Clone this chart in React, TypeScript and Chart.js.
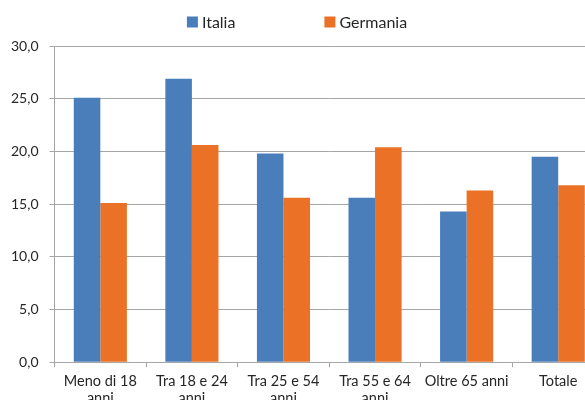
import React, { useEffect, useRef } from "react";
import { Chart, registerables } from "chart.js";

Chart.register(...registerables);

const categories: string[][] = [
  ["Meno di 18", "anni"],
  ["Tra 18 e 24", "anni"],
  ["Tra 25 e 54", "anni"],
  ["Tra 55 e 64", "anni"],
  ["Oltre 65 anni"],
  ["Totale"],
];
const italia: number[] = [25.1, 26.9, 19.8, 15.6, 14.3, 19.5];
const germania: number[] = [15.1, 20.6, 15.6, 20.4, 16.3, 16.8];
const seriesNames: string[] = ["Italia", "Germania"];
const seriesColors: string[] = ["#4a7ebb", "#ea7125"];

const FONT = "Lato, 'Open Sans', sans-serif";
const TEXT = "#262626";
const GRID = "#a6a6a6";

const legendPlugin = {
  id: "customLegend",
  afterDraw(chart: any) {
    const ctx = chart.ctx;
    ctx.save();
    ctx.font = `16px ${FONT}`;
    ctx.textBaseline = "middle";
    ctx.textAlign = "left";
    const box = 11;
    const gapText = 4;
    const gapItem = 89;
    const items = chart.data.datasets.map((d: any) => ({
      label: d.label,
      color: d.backgroundColor,
      w: box + gapText + ctx.measureText(d.label).width,
    }));
    const total =
      items.reduce((s: number, it: any) => s + it.w, 0) + gapItem * (items.length - 1);
    let x = 297 - total / 2;
    const y = 22;
    items.forEach((it: any) => {
      ctx.fillStyle = it.color;
      ctx.fillRect(x, y - box / 2, box, box);
      ctx.fillStyle = TEXT;
      ctx.fillText(it.label, x + box + gapText, y + 1);
      x += it.w + gapItem;
    });
    ctx.restore();
  },
};

export default function App() {
  const ref = useRef<HTMLCanvasElement | null>(null);
  useEffect(() => {
    if (!ref.current) return;
    const chart = new Chart(ref.current, {
      type: "bar",
      data: {
        labels: categories,
        datasets: [
          {
            label: seriesNames[0],
            data: italia,
            backgroundColor: seriesColors[0],
            categoryPercentage: 0.58,
            barPercentage: 1,
          },
          {
            label: seriesNames[1],
            data: germania,
            backgroundColor: seriesColors[1],
            categoryPercentage: 0.58,
            barPercentage: 1,
          },
        ],
      },
      plugins: [legendPlugin],
      options: {
        animation: false,
        responsive: true,
        maintainAspectRatio: false,
        layout: { padding: { top: 46, right: 0, left: 0, bottom: 0 } },
        plugins: {
          legend: { display: false },
          tooltip: { enabled: false },
        },
        scales: {
          x: {
            grid: {
              offset: true,
              drawOnChartArea: false,
              drawTicks: true,
              tickLength: 5,
              color: GRID,
            },
            border: { color: GRID, width: 1 },
            ticks: {
              color: TEXT,
              font: { family: FONT, size: 14.5, lineHeight: 1.2 },
              padding: 5,
              maxRotation: 0,
              autoSkip: false,
            },
          },
          y: {
            min: 0,
            max: 30,
            grid: { color: GRID, lineWidth: 1, tickLength: 5 },
            border: { color: GRID, width: 1 },
            ticks: {
              stepSize: 5,
              color: TEXT,
              padding: 11,
              font: { family: FONT, size: 14 },
              callback: (v: any) => Number(v).toFixed(1).replace(".", ","),
            },
          },
        },
      },
    });
    return () => chart.destroy();
  }, []);
  return (
    <div
      style={{
        position: "fixed",
        left: 0,
        top: 0,
        width: 585,
        height: 400,
        overflow: "hidden",
        background: "#ffffff",
      }}
    >
      <div style={{ position: "relative", width: 604, height: 412 }}>
        <canvas ref={ref} />
      </div>
    </div>
  );
}
